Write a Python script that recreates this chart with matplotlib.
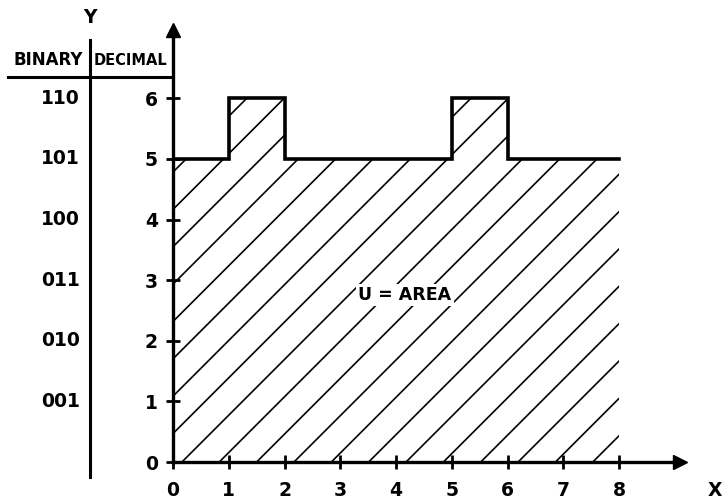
import matplotlib
matplotlib.use("Agg")
import matplotlib.pyplot as plt
import numpy as np

# ---- data ----
x_edges = [0, 1, 2, 5, 6, 8]
y_levels = [5, 6, 5, 6, 5, 5]
x_ticks = [0, 1, 2, 3, 4, 5, 6, 7, 8]
y_ticks = [0, 1, 2, 3, 4, 5, 6]
binary_labels = ["001", "010", "011", "100", "101", "110"]
binary_values = [1, 2, 3, 4, 5, 6]

W, H = 724, 503
fig = plt.figure(figsize=(W / 100, H / 100), dpi=100)
x0px, y0px = 173, 462
sx, sy = 55.75, 60.6
xmax, ymax = 9.09, 7.13
ax = fig.add_axes([x0px / W, (H - y0px) / H, xmax * sx / W, ymax * sy / H])
ax.set_xlim(0, xmax)
ax.set_ylim(0, ymax)

font = dict(family="DejaVu Sans", weight="bold")

for s in ["top", "right"]:
    ax.spines[s].set_visible(False)
for s in ["left", "bottom"]:
    ax.spines[s].set_linewidth(2.4)
ax.plot([1], [0], marker=">", markersize=10, color="black", transform=ax.transAxes, clip_on=False)
ax.plot([0], [1], marker="^", markersize=10, color="black", transform=ax.transAxes, clip_on=False)

ax.set_xticks(x_ticks)
ax.set_yticks(y_ticks)
ax.set_xticklabels([str(v) for v in x_ticks], fontsize=13.5, **font)
ax.set_yticklabels([str(v) for v in y_ticks], fontsize=13.5, **font)
ax.tick_params(direction="inout", length=10, width=2, pad=6)
ax.tick_params(axis="x", pad=9)

# step outline and area
ax.step(x_edges, y_levels, where="post", color="black", lw=2.6, solid_joinstyle="miter")
area = ax.fill_between(x_edges, y_levels, step="post", facecolor="none", edgecolor="none")
clip_path = area.get_paths()[0]

slope = 0.92
spacing = 0.67
offset = 0.16
for k in range(-14, 14):
    c = offset + k * spacing
    xs = np.array([-1, 10])
    ln, = ax.plot(xs, slope * (xs - c), color="black", lw=1.2)
    ln.set_clip_path(clip_path, transform=ax.transData)

ax.text(4.16, 2.75, "U = AREA", ha="center", va="center", fontsize=12.5, **font,
        bbox=dict(facecolor="white", edgecolor="none", pad=1.5), zorder=5)

# axis letters
ax.text((715 - x0px) / sx, -(490 - y0px) / sy, "X", ha="center", va="center", fontsize=13.5, clip_on=False, **font)
ax.text(-1.49, 7.33, "Y", ha="center", va="center", fontsize=13.5, clip_on=False, **font)

# binary / decimal table
ax.plot([-1.49, -1.49], [-0.25, 6.96], color="black", lw=2.2, clip_on=False)
ax.plot([-2.96, -0.05], [6.35, 6.35], color="black", lw=2.2, clip_on=False)
ax.text(-2.24, 6.63, "BINARY", ha="center", va="center", fontsize=12, clip_on=False, **font)
ax.text(-0.77, 6.63, "DECIMAL", ha="center", va="center", fontsize=10.5, clip_on=False, **font)
for lab, v in zip(binary_labels, binary_values):
    ax.text(-1.67, v, lab, ha="right", va="center", fontsize=13.5, clip_on=False, **font)

fig.savefig("out.png", dpi=100)
